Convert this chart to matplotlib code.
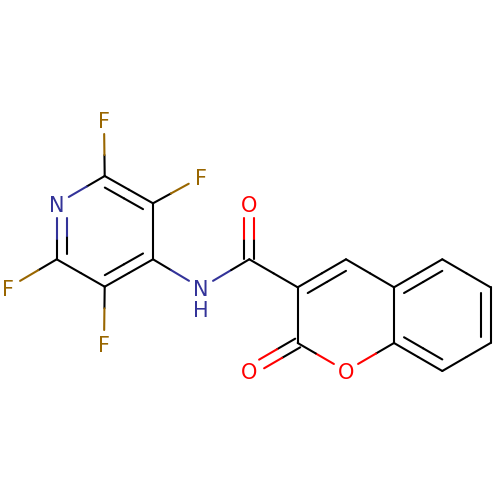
import numpy as np
import matplotlib
matplotlib.use('Agg')
import matplotlib.pyplot as plt

# atoms, picture coordinates
atom_x = [104.7, 153.0, 153.0, 104.7, 56.7, 56.7, 104.0, 201.0, 8.0, 104.0, 201.0,
          249.3, 249.3, 297.7, 346.0, 394.0, 442.3, 490.5, 490.5, 442.3, 394.0, 346.0, 297.7, 249.5]
atom_y = [176.0, 203.3, 259.3, 286.7, 259.3, 204.0, 120.0, 177.0, 288.0, 344.0, 288.0,
          259.3, 204.0, 287.3, 259.3, 287.3, 259.3, 287.3, 343.0, 371.0, 343.0, 371.0, 343.0, 371.0]
atom_label = ['', '', '', '', '', 'N', 'F', 'F', 'F', 'F', 'N',
              '', 'O', '', '', '', '', '', '', '', '', 'O', '', 'O']

single_bonds = [(0, 5), (1, 2), (3, 4), (0, 6), (1, 7), (4, 8), (3, 9), (2, 10), (10, 11),
                (11, 13), (13, 22), (14, 15), (15, 20), (16, 17), (18, 19), (20, 21), (21, 22)]
# ring double bonds: a, b, ring centre
ring_doubles = [(0, 1, (104.7, 231.5)), (2, 3, (104.7, 231.5)), (4, 5, (104.7, 231.5)),
                (13, 14, (346.0, 315.0)), (15, 16, (442.3, 315.0)),
                (17, 18, (442.3, 315.0)), (19, 20, (442.3, 315.0))]
# C=O bonds
exo_doubles = [(11, 12), (22, 23)]

colors = {'N': '#333399', 'F': '#996600', 'O': '#ff0000', 'H': '#333399', '': '#000000'}
trim = 14.0
offset = 10.0
lw = 1.5

fig = plt.figure(figsize=(5, 5), dpi=100)
ax = fig.add_axes([0, 0, 1, 1])
ax.set_xlim(0, 500)
ax.set_ylim(500, 0)
ax.axis('off')


def pos(i):
    return np.array([atom_x[i], atom_y[i]])


# draws one line, half in each atom colour
def draw_line(p0, p1, a, b):
    mid = (p0 + p1) / 2
    ax.plot([p0[0], mid[0]], [p0[1], mid[1]], color=colors[atom_label[a]], lw=lw, solid_capstyle='round')
    ax.plot([mid[0], p1[0]], [mid[1], p1[1]], color=colors[atom_label[b]], lw=lw, solid_capstyle='round')


def trimmed(a, b):
    p0 = pos(a)
    p1 = pos(b)
    d = (p1 - p0) / np.linalg.norm(p1 - p0)
    if atom_label[a]:
        p0 = p0 + d * trim
    if atom_label[b]:
        p1 = p1 - d * trim
    return p0, p1


for a, b in single_bonds:
    p0, p1 = trimmed(a, b)
    draw_line(p0, p1, a, b)

for a, b, centre in ring_doubles:
    p0, p1 = trimmed(a, b)
    draw_line(p0, p1, a, b)
    d = (p1 - p0) / np.linalg.norm(p1 - p0)
    n = np.array([-d[1], d[0]])
    if np.dot(n, np.array(centre) - p0) < 0:
        n = -n
    q0 = p0 + n * offset
    q1 = p1 + n * offset
    if not atom_label[a]:
        q0 = q0 + d * 5.8
    if not atom_label[b]:
        q1 = q1 - d * 5.8
    draw_line(q0, q1, a, b)

for a, b in exo_doubles:
    p0, p1 = trimmed(a, b)
    d = (p1 - p0) / np.linalg.norm(p1 - p0)
    n = np.array([-d[1], d[0]])
    draw_line(p0 + n * 5, p1 + n * 5, a, b)
    draw_line(p0 - n * 5, p1 - n * 5, a, b)

for i, label in enumerate(atom_label):
    if label:
        ax.text(atom_x[i], atom_y[i], label, color=colors[label], fontsize=15,
                ha='center', va='center_baseline', family='DejaVu Sans')
# hydrogen under the amide N
ax.text(atom_x[10], atom_y[10] + 21, 'H', color=colors['H'], fontsize=15,
        ha='center', va='center_baseline', family='DejaVu Sans')

plt.savefig('out.png', dpi=100)
